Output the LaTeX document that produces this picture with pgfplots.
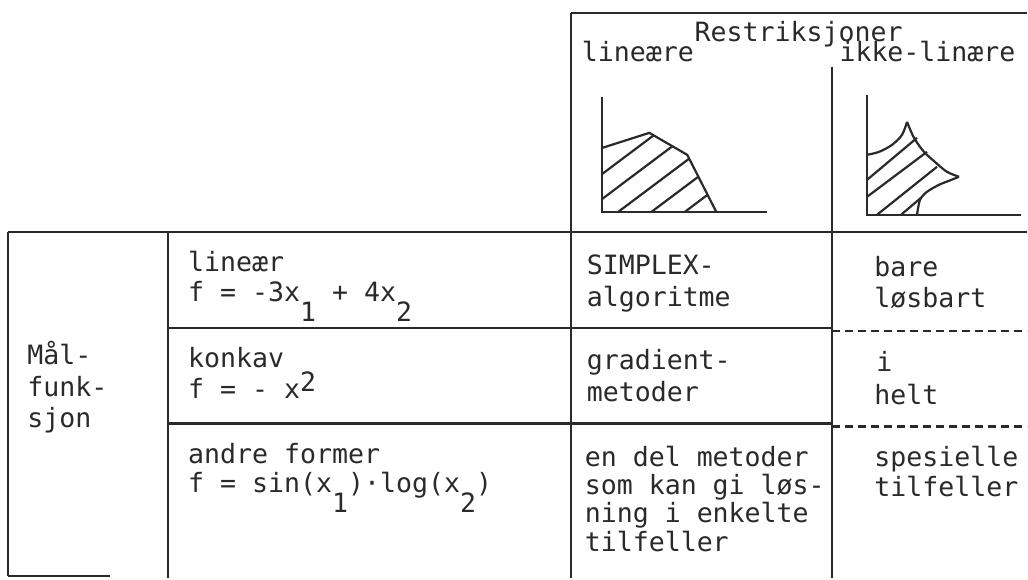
\documentclass[border=0pt]{standalone}
\usepackage{fontspec}
\setmainfont{DejaVu Sans Mono}
\usepackage{pgfplots}
\pgfplotsset{compat=1.18}
\definecolor{ink}{HTML}{2A2A2A}
\tikzset{tx/.style={anchor=base west, inner sep=0pt, text=ink, font=\fontsize{13.3}{16}\selectfont},
  L/.style={draw=ink, solid, line width=1.1pt, mark=none},
  D/.style={draw=ink, line width=1.1pt, mark=none, dash pattern=on 4pt off 2.5pt}}
\newcommand{\dn}[1]{\raisebox{-10pt}{#1}}
\newcommand{\up}[1]{\raisebox{3.5pt}{#1}}
\begin{document}
\begin{tikzpicture}
\begin{axis}[width=514pt,height=289.5pt,scale only axis,
  xmin=0,xmax=1028,ymin=0,ymax=579,y dir=reverse,
  axis lines=none,clip=false]
\path (rel axis cs:0,0) rectangle (rel axis cs:1,1);
% ---- table frame ----
\addplot[L] coordinates {(572,13) (1028,13)};
\addplot[L] coordinates {(572,13) (572,579)};
\addplot[L] coordinates {(833,67) (833,579)};
\addplot[L] coordinates {(8,232) (1028,232)};
\addplot[L] coordinates {(8,232) (8,577)};
\addplot[L] coordinates {(8,577) (110,577)};
\addplot[L] coordinates {(168,232) (168,579)};
\addplot[L] coordinates {(168,328) (833,328)};
\addplot[L] coordinates {(168,424) (833,424)};
\addplot[D] coordinates {(833,331) (1028,331)};
\addplot[D] coordinates {(833,427) (1028,427)};
% ---- mini plot 1 (linear constraints) ----
\addplot[L] coordinates {(603,97) (603,212) (768,212)};
\addplot[L] coordinates {(603,148) (650,133) (688,155) (717,212)};
\addplot[L] coordinates {(603,174) (654.3,135.5)};
\addplot[L] coordinates {(603,199) (673.1,146.4)};
\addplot[L] coordinates {(619,212) (689.9,158.8)};
\addplot[L] coordinates {(652.3,212) (699.1,176.9)};
\addplot[L] coordinates {(685.7,212) (708.3,195)};
% ---- mini plot 2 (nonlinear constraints) ----
\addplot[L] coordinates {(868,95) (868,215) (1022,215)};
\addplot[L,smooth] coordinates {(868,155) (880,152) (893,145) (903,135) (908,122)};
\addplot[L,smooth] coordinates {(908,122) (915,138) (925,152) (937,163) (948,172) (960,177)};
\addplot[L,smooth] coordinates {(960,177) (950,181) (940,185) (928,192) (921,200) (918,215)};
\addplot[L] coordinates {(868,180) (918,138)};
\addplot[L] coordinates {(868,197) (928,152)};
\addplot[L] coordinates {(878,215) (938,167)};
\addplot[L] coordinates {(902,215) (922,198)};
% ---- texts ----
\node[tx] at (axis cs:695,42) {Restriksjoner};
\node[tx] at (axis cs:582,62) {lineære};
\node[tx] at (axis cs:840,62) {ikke-linære};
\node[tx] at (axis cs:27,365) {Mål-};
\node[tx] at (axis cs:27,397) {funk-};
\node[tx] at (axis cs:27,428) {sjon};
\node[tx] at (axis cs:188,272) {lineær};
\node[tx] at (axis cs:188,302) {f = -3x\dn{1} + 4x\dn{2}};
\node[tx] at (axis cs:188,368) {konkav};
\node[tx] at (axis cs:188,399) {f = - x\up{2}};
\node[tx] at (axis cs:188,464) {andre former};
\node[tx] at (axis cs:188,493) {f = sin(x\dn{1})·log(x\dn{2})};
\node[tx] at (axis cs:587,275) {SIMPLEX-};
\node[tx] at (axis cs:587,307) {algoritme};
\node[tx] at (axis cs:587,370) {gradient-};
\node[tx] at (axis cs:587,402) {metoder};
\node[tx] at (axis cs:585,467) {en del metoder};
\node[tx] at (axis cs:585,495) {som kan gi løs-};
\node[tx] at (axis cs:585,523) {ning i enkelte};
\node[tx] at (axis cs:585,552) {tilfeller};
\node[tx] at (axis cs:875,277) {bare};
\node[tx] at (axis cs:875,308) {løsbart};
\node[tx] at (axis cs:877,372) {i};
\node[tx] at (axis cs:875,405) {helt};
\node[tx] at (axis cs:875,467) {spesielle};
\node[tx] at (axis cs:875,497) {tilfeller};
\end{axis}
\end{tikzpicture}
\end{document}
